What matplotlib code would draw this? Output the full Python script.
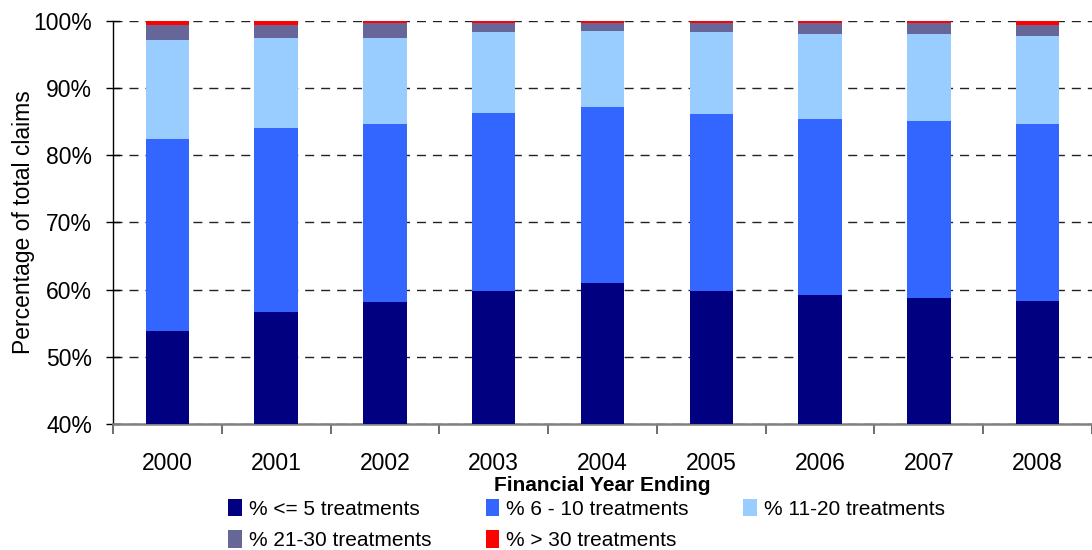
import matplotlib
matplotlib.use("Agg")
import matplotlib.pyplot as plt
import numpy as np
from matplotlib.ticker import FixedLocator, FuncFormatter

years = ["2000", "2001", "2002", "2003", "2004", "2005", "2006", "2007", "2008"]
# cumulative tops (percent)
top_le5 = [53.9, 56.7, 58.2, 59.8, 61.0, 59.8, 59.2, 58.8, 58.3]
top_6_10 = [82.4, 84.1, 84.7, 86.3, 87.2, 86.1, 85.4, 85.1, 84.7]
top_11_20 = [97.1, 97.4, 97.4, 98.3, 98.5, 98.3, 98.0, 98.0, 97.7]
top_21_30 = [99.4, 99.4, 99.7, 99.7, 99.7, 99.7, 99.7, 99.7, 99.4]
top_gt30 = [100.0] * 9

series_labels = ["% <= 5 treatments", "% 6 - 10 treatments", "% 11-20 treatments",
                 "% 21-30 treatments", "% > 30 treatments"]
colors = ["#000080", "#3366FF", "#99CCFF", "#666699", "#FF0000"]

tops = [top_le5, top_6_10, top_11_20, top_21_30, top_gt30]
vals = []
prev = np.zeros(len(years))
for t in tops:
    t = np.array(t)
    vals.append(t - prev)
    prev = t

plt.rcParams['font.family'] = ['Liberation Sans', 'DejaVu Sans']

fig = plt.figure(figsize=(10.92, 5.5), dpi=100)
ax = fig.add_axes([113/1092, 1-424/550, 1-113/1092, (424-21)/550])

x = np.arange(len(years))
bottom = np.zeros(len(years))
handles = []
for v, c, lab in zip(vals, colors, series_labels):
    h = ax.bar(x, v, width=0.4, bottom=bottom, color=c, label=lab, zorder=3)
    handles.append(h)
    bottom = bottom + v

ax.set_ylim(40, 100)
ax.set_xlim(-0.5, len(years) - 0.5)
ax.set_yticks(np.arange(40, 101, 10))
ax.yaxis.set_major_formatter(FuncFormatter(lambda v, p: f"{int(v)}%"))
ax.set_xticks(x)
ax.set_xticklabels(years)
ax.xaxis.set_minor_locator(FixedLocator(np.arange(-0.5, len(years), 1.0)))
ax.tick_params(axis='x', which='major', length=0, labelsize=16.5, pad=20)
ax.tick_params(axis='x', which='minor', length=7, width=1.2, color='#555555', direction='out')
ax.tick_params(axis='y', which='major', length=10, width=1, direction='inout', labelsize=16.5, pad=10)

ax.yaxis.grid(True, linestyle=(0, (6.5, 5)), color='#222222', linewidth=1.0, zorder=0)
ax.set_axisbelow(True)

for s in ['top', 'right']:
    ax.spines[s].set_visible(False)
ax.spines['left'].set_color('black')
ax.spines['left'].set_linewidth(1.0)
ax.spines['bottom'].set_color('#808080')
ax.spines['bottom'].set_linewidth(1.8)

ax.set_ylabel("Percentage of total claims", fontsize=16.5)
ax.yaxis.set_label_coords(-0.080, 0.5)
ax.set_xlabel("Financial Year Ending", fontsize=15, fontweight='bold', labelpad=1)

order = [0, 3, 1, 4, 2]
leg = fig.legend([handles[i] for i in order], [series_labels[i] for i in order],
                 ncol=3, loc='upper left', bbox_to_anchor=(228/1092, 1-499/550),
                 frameon=False, prop={'size': 15},
                 handlelength=0.65, handleheight=0.9, handletextpad=0.35,
                 columnspacing=2.6, labelspacing=0.55, borderaxespad=0, borderpad=0)

fig.savefig("out.png", dpi=100)
